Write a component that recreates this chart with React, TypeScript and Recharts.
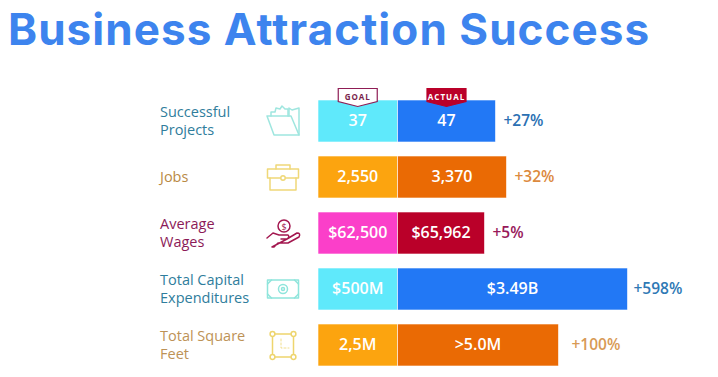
import { BarChart, Bar, XAxis, YAxis, Cell, LabelList } from 'recharts'

const categories = [
  'Successful Projects',
  'Jobs',
  'Average Wages',
  'Total Capital Expenditures',
  'Total Square Feet',
]
// infographic bars are not to scale, so lengths are the drawn lengths
const goalLengths = [79.5, 79.5, 79.5, 79.5, 79.5]
const actualLengths = [98, 109, 87, 230, 161]
const goalLabels = ['37', '2,550', '$62,500', '$500M', '2,5M']
const actualLabels = ['47', '3,370', '$65,962', '$3.49B', '>5.0M']
const changeLabels = ['+27%', '+32%', '+5%', '+598%', '+100%']

const categoryLines = [
  ['Successful', 'Projects'],
  ['Jobs'],
  ['Average', 'Wages'],
  ['Total Capital', 'Expenditures'],
  ['Total Square', 'Feet'],
]

const goalColors = ['#5fe9fb', '#fca40f', '#fb3fc9', '#5fe9fb', '#fca40f']
const actualColors = ['#2278f5', '#ea6a04', '#ba0029', '#2278f5', '#ea6a04']
const categoryColors = ['#2f7d9c', '#b98a45', '#8c1a58', '#2f7d9c', '#bd9256']
const changeColors = ['#2b70b3', '#dc8a3e', '#98195a', '#2f79b5', '#d89a55']
const changeGaps = [8, 8, 8, 6, 13]
const iconColors = ['#9fe6df', '#efd878', '#a3174f', '#8fe5dc', '#eed56e']

const FONT = '"Open Sans", sans-serif'

const data = categories.map((name, i) => ({
  name,
  goal: goalLengths[i],
  actual: actualLengths[i],
  goalLabel: goalLabels[i],
  actualLabel: actualLabels[i],
}))

function Icon({ index, cx, cy }: { index: number; cx: number; cy: number }) {
  const common = {
    fill: 'none',
    stroke: iconColors[index],
    strokeWidth: 1.5,
    strokeLinejoin: 'round' as const,
    strokeLinecap: 'round' as const,
    transform: `translate(${cx} ${cy})`,
  }
  if (index === 0) {
    return (
      <g {...common}>
        <path d="M-16 -5 L8 -5 L16 14 L-9 14 Z" />
        <path d="M16 14 L16 -13 L9 -11 L6 -13 L6 -5" />
        <path d="M-12 -5 L-12 -9 L-8 -9 L-7 -13 L-3 -12 L-1 -15 L2 -12 L5 -12 L5 -5" />
      </g>
    )
  }
  if (index === 1) {
    return (
      <g {...common}>
        <path d="M-15.5 -8 L15.5 -8 L15.5 1 L-15.5 1 Z" />
        <path d="M-13 1 L-13 13 L13 13 L13 1" />
        <path d="M-7 -8 L-7 -12 L7 -12 L7 -8" />
        <circle cx={0} cy={1} r={2.2} fill="#fff" />
      </g>
    )
  }
  if (index === 2) {
    return (
      <g {...common}>
        <circle cx={1} cy={-7} r={6} />
        <text x={1} y={-3.5} textAnchor="middle" fontSize={9} fontFamily={FONT} stroke="none" fill={iconColors[2]}>
          $
        </text>
        <path d="M-16 5 L-10 0 L-4 2 L5 2 Q7 4 4 6 L-2 6 M4 6 L14 0 Q18 0 16 4 L5 10 L-5 10 L-9 14 L-11 14 Z" />
      </g>
    )
  }
  if (index === 3) {
    return (
      <g {...common}>
        <rect x={-15.5} y={-9} width={31} height={18} />
        <path d="M-15.5 -5 L-11.5 -9 M15.5 -5 L11.5 -9 M-15.5 5 L-11.5 9 M15.5 5 L11.5 9" />
        <circle cx={0} cy={0} r={4.5} />
        <circle cx={0} cy={0} r={1.5} />
      </g>
    )
  }
  return (
    <g {...common}>
      <rect x={-10.5} y={-11} width={21} height={23} />
      <circle cx={-10.5} cy={-11} r={2.4} fill="#fff" />
      <circle cx={10.5} cy={-11} r={2.4} fill="#fff" />
      <circle cx={-10.5} cy={12} r={2.4} fill="#fff" />
      <circle cx={10.5} cy={12} r={2.4} fill="#fff" />
      <path d="M-2 -6 L-2 3 L6 3" strokeDasharray="2 2" strokeWidth={0.8} />
    </g>
  )
}

function CategoryTick({ y, index }: any) {
  const lines = categoryLines[index]
  const top = y - ((lines.length - 1) * 18.5) / 2
  return (
    <g>
      {lines.map((line, i) => (
        <text
          key={line}
          x={160}
          y={top + i * 18.5 + 5}
          fontFamily={FONT}
          fontSize={14.5}
          fill={categoryColors[index]}
        >
          {line}
        </text>
      ))}
      <Icon index={index} cx={283} cy={y} />
    </g>
  )
}

function Badge({ cx, text, fill, stroke, color }: any) {
  const p = `M${cx - 19.5} 88.5 L${cx + 19.5} 88.5 L${cx + 19.5} 101.5 L${cx} 106.5 L${cx - 19.5} 101.5 Z`
  return (
    <g>
      <path d={p} fill={fill} stroke={stroke} strokeWidth={1.2} />
      <text
        x={cx}
        y={99.5}
        textAnchor="middle"
        fontFamily={FONT}
        fontSize={8}
        fontWeight={700}
        letterSpacing={1}
        fill={color}
      >
        {text}
      </text>
    </g>
  )
}

function BarValue({ x, y, width, height, value }: any) {
  return (
    <text
      x={x + width / 2}
      y={y + height / 2 + 5}
      textAnchor="middle"
      fontFamily={FONT}
      fontSize={16}
      fontWeight={600}
      fill="#fff"
    >
      {value}
    </text>
  )
}

function GoalLabel(props: any) {
  return (
    <g>
      <BarValue {...props} />
      {props.index === 0 && (
        <Badge cx={props.x + props.width / 2} text="GOAL" fill="#fff" stroke="#8f1d55" color="#7a1f4c" />
      )}
    </g>
  )
}

function ActualLabel(props: any) {
  const { x, y, width, height, index } = props
  return (
    <g>
      <BarValue {...props} />
      {index === 0 && (
        <Badge cx={x + width / 2} text="ACTUAL" fill="#ba0029" stroke="#ba0029" color="#fff" />
      )}
      <text
        x={x + width + changeGaps[index]}
        y={y + height / 2 + 5}
        fontFamily={FONT}
        fontSize={15.5}
        fontWeight={600}
        fill={changeColors[index]}
      >
        {changeLabels[index]}
      </text>
    </g>
  )
}

export default function App() {
  return (
    <div style={{ position: 'absolute', left: 0, top: 0, width: 718, height: 377, background: '#fff', overflow: 'hidden' }}>
      <div
        style={{
          position: 'absolute',
          left: 8,
          top: 1,
          fontFamily: 'Inter, sans-serif',
          fontWeight: 700,
          fontSize: 44,
          letterSpacing: 1.05,
          lineHeight: '56px',
          color: '#3d84ee',
          whiteSpace: 'nowrap',
        }}
      >
        Business Attraction Success
      </div>
      <BarChart
        layout="vertical"
        width={718}
        height={377}
        data={data}
        barSize={42}
        margin={{ top: 93, right: 0, bottom: 4, left: 0 }}
      >
        <XAxis type="number" hide domain={[0, 400]} />
        <YAxis
          type="category"
          dataKey="name"
          width={318}
          interval={0}
          axisLine={false}
          tickLine={false}
          tick={(props: any) => <CategoryTick {...props} />}
        />
        <Bar dataKey="goal" stackId="a" stroke="#fff" strokeWidth={0.6} isAnimationActive={false}>
          {goalColors.map((c, i) => (
            <Cell key={i} fill={c} />
          ))}
          <LabelList dataKey="goalLabel" content={GoalLabel} />
        </Bar>
        <Bar dataKey="actual" stackId="a" stroke="#fff" strokeWidth={0.6} isAnimationActive={false}>
          {actualColors.map((c, i) => (
            <Cell key={i} fill={c} />
          ))}
          <LabelList dataKey="actualLabel" content={ActualLabel} />
        </Bar>
      </BarChart>
    </div>
  )
}
